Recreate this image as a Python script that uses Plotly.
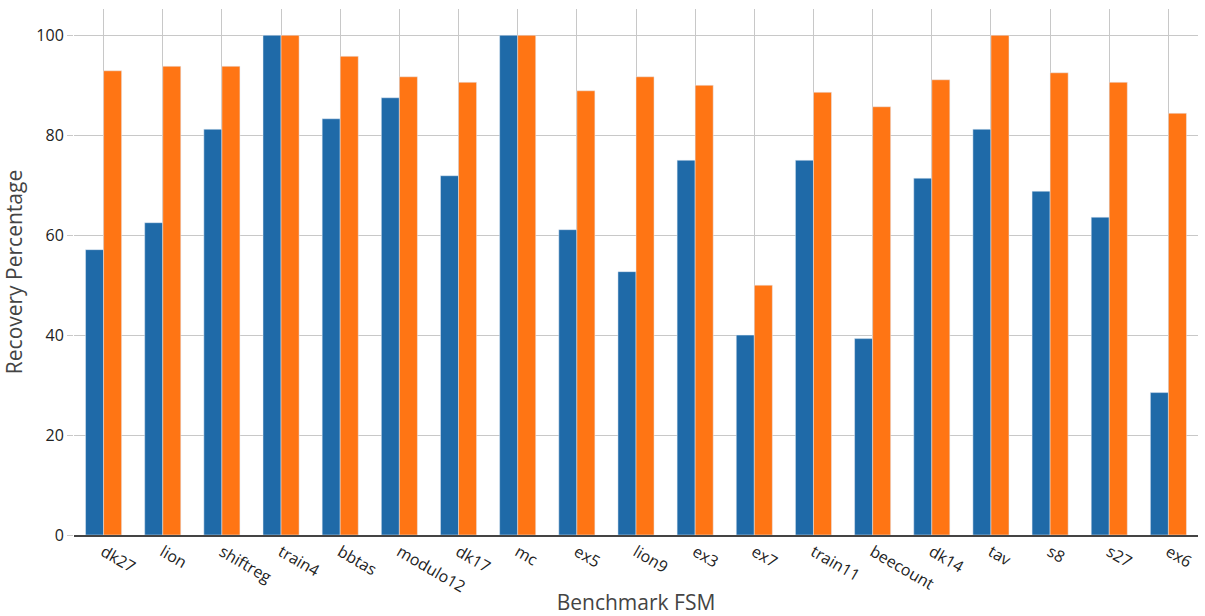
import plotly.graph_objects as go

categories = ["dk27", "lion", "shiftreg", "train4", "bbtas", "modulo12", "dk17", "mc",
              "ex5", "lion9", "ex3", "ex7", "train11", "beecount", "dk14", "tav",
              "s8", "s27", "ex6"]
series_a = [57.1, 62.5, 81.2, 100, 83.3, 87.5, 71.9, 100, 61.1, 52.7, 75.0, 40.0, 75.0,
            39.3, 71.4, 81.2, 68.8, 63.6, 28.5]
series_b = [92.9, 93.8, 93.8, 100, 95.8, 91.7, 90.6, 100, 88.9, 91.7, 90.0, 50.0, 88.6,
            85.7, 91.1, 100, 92.5, 90.6, 84.4]

fig = go.Figure()
fig.add_trace(go.Bar(x=categories, y=series_a, name="A", marker=dict(color="#1f6aa8")))
fig.add_trace(go.Bar(x=categories, y=series_b, name="B", marker=dict(color="#ff7514")))

fig.update_layout(
    width=1205, height=616,
    margin=dict(l=74, r=7, t=9, b=81, autoexpand=False),
    paper_bgcolor="white", plot_bgcolor="white",
    showlegend=False,
    barmode="group", bargap=0.39, bargroupgap=0,
    font=dict(family="Open Sans", color="#222"),
)
fig.update_xaxes(
    title=dict(text="Benchmark FSM", font=dict(size=21, color="#444"), standoff=6),
    tickangle=30, tickfont=dict(size=16), automargin=False,
    showgrid=True, gridcolor="#c8c8c8",
    showline=True, linecolor="#444", linewidth=1.5,
)
fig.update_yaxes(
    title=dict(text="Recovery Percentage", font=dict(size=21, color="#444")),
    tickfont=dict(size=16), dtick=20, automargin=False,
    showgrid=True, gridcolor="#c8c8c8",
    ticks="outside", ticklen=6, tickcolor="#c8c8c8",
    zeroline=False,
)
fig.write_html("out.html")
